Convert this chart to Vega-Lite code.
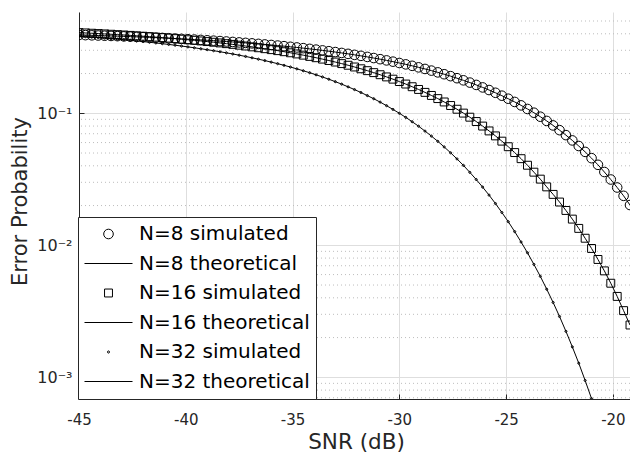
{
  "$schema": "https://vega.github.io/schema/vega-lite/v6.json",
  "width": 551,
  "height": 387,
  "autosize": {"type": "none"},
  "padding": {"left": 79, "top": 12, "right": 0, "bottom": 57},
  "background": "white",
  "config": {"view": {"stroke": null}, "font": "DejaVu Sans"},
  "datasets": {
    "minor": [
      {"p": 0.0007}, {"p": 0.0008}, {"p": 0.0009},
      {"p": 0.002}, {"p": 0.003}, {"p": 0.004}, {"p": 0.005}, {"p": 0.006}, {"p": 0.007}, {"p": 0.008}, {"p": 0.009},
      {"p": 0.02}, {"p": 0.03}, {"p": 0.04}, {"p": 0.05}, {"p": 0.06}, {"p": 0.07}, {"p": 0.08}, {"p": 0.09},
      {"p": 0.2}, {"p": 0.3}, {"p": 0.4}, {"p": 0.5}
    ],
    "curves": [
      {"snr": -45, "N=8 simulated": 0.3920, "N=16 simulated": 0.4082, "N=32 simulated": 0.3833},
      {"snr": -44.7, "N=8 simulated": 0.3908, "N=16 simulated": 0.4061, "N=32 simulated": 0.3803},
      {"snr": -44.4, "N=8 simulated": 0.3895, "N=16 simulated": 0.4039, "N=32 simulated": 0.3772},
      {"snr": -44.1, "N=8 simulated": 0.3882, "N=16 simulated": 0.4016, "N=32 simulated": 0.3741},
      {"snr": -43.8, "N=8 simulated": 0.3868, "N=16 simulated": 0.3992, "N=32 simulated": 0.3708},
      {"snr": -43.5, "N=8 simulated": 0.3854, "N=16 simulated": 0.3968, "N=32 simulated": 0.3675},
      {"snr": -43.2, "N=8 simulated": 0.3839, "N=16 simulated": 0.3943, "N=32 simulated": 0.3640},
      {"snr": -42.9, "N=8 simulated": 0.3824, "N=16 simulated": 0.3917, "N=32 simulated": 0.3605},
      {"snr": -42.6, "N=8 simulated": 0.3808, "N=16 simulated": 0.3890, "N=32 simulated": 0.3568},
      {"snr": -42.3, "N=8 simulated": 0.3792, "N=16 simulated": 0.3862, "N=32 simulated": 0.3530},
      {"snr": -42.0, "N=8 simulated": 0.3775, "N=16 simulated": 0.3833, "N=32 simulated": 0.3491},
      {"snr": -41.7, "N=8 simulated": 0.3757, "N=16 simulated": 0.3804, "N=32 simulated": 0.3450},
      {"snr": -41.4, "N=8 simulated": 0.3740, "N=16 simulated": 0.3773, "N=32 simulated": 0.3409},
      {"snr": -41.1, "N=8 simulated": 0.3721, "N=16 simulated": 0.3742, "N=32 simulated": 0.3367},
      {"snr": -40.8, "N=8 simulated": 0.3702, "N=16 simulated": 0.3710, "N=32 simulated": 0.3323},
      {"snr": -40.5, "N=8 simulated": 0.3682, "N=16 simulated": 0.3676, "N=32 simulated": 0.3277},
      {"snr": -40.2, "N=8 simulated": 0.3661, "N=16 simulated": 0.3641, "N=32 simulated": 0.3231},
      {"snr": -39.9, "N=8 simulated": 0.3640, "N=16 simulated": 0.3606, "N=32 simulated": 0.3183},
      {"snr": -39.6, "N=8 simulated": 0.3618, "N=16 simulated": 0.3570, "N=32 simulated": 0.3134},
      {"snr": -39.3, "N=8 simulated": 0.3595, "N=16 simulated": 0.3532, "N=32 simulated": 0.3083},
      {"snr": -39.0, "N=8 simulated": 0.3572, "N=16 simulated": 0.3492, "N=32 simulated": 0.3032},
      {"snr": -38.7, "N=8 simulated": 0.3548, "N=16 simulated": 0.3452, "N=32 simulated": 0.2979},
      {"snr": -38.4, "N=8 simulated": 0.3523, "N=16 simulated": 0.3411, "N=32 simulated": 0.2925},
      {"snr": -38.1, "N=8 simulated": 0.3497, "N=16 simulated": 0.3368, "N=32 simulated": 0.2869},
      {"snr": -37.8, "N=8 simulated": 0.3470, "N=16 simulated": 0.3325, "N=32 simulated": 0.2813},
      {"snr": -37.5, "N=8 simulated": 0.3442, "N=16 simulated": 0.3279, "N=32 simulated": 0.2754},
      {"snr": -37.2, "N=8 simulated": 0.3414, "N=16 simulated": 0.3233, "N=32 simulated": 0.2694},
      {"snr": -36.9, "N=8 simulated": 0.3385, "N=16 simulated": 0.3185, "N=32 simulated": 0.2632},
      {"snr": -36.6, "N=8 simulated": 0.3355, "N=16 simulated": 0.3136, "N=32 simulated": 0.2569},
      {"snr": -36.3, "N=8 simulated": 0.3323, "N=16 simulated": 0.3085, "N=32 simulated": 0.2507},
      {"snr": -36.0, "N=8 simulated": 0.3291, "N=16 simulated": 0.3034, "N=32 simulated": 0.2441},
      {"snr": -35.7, "N=8 simulated": 0.3258, "N=16 simulated": 0.2982, "N=32 simulated": 0.2376},
      {"snr": -35.4, "N=8 simulated": 0.3224, "N=16 simulated": 0.2927, "N=32 simulated": 0.2308},
      {"snr": -35.1, "N=8 simulated": 0.3188, "N=16 simulated": 0.2872, "N=32 simulated": 0.2240},
      {"snr": -34.8, "N=8 simulated": 0.3152, "N=16 simulated": 0.2815, "N=32 simulated": 0.2170},
      {"snr": -34.5, "N=8 simulated": 0.3114, "N=16 simulated": 0.2756, "N=32 simulated": 0.2100},
      {"snr": -34.2, "N=8 simulated": 0.3075, "N=16 simulated": 0.2696, "N=32 simulated": 0.2029},
      {"snr": -33.9, "N=8 simulated": 0.3035, "N=16 simulated": 0.2635, "N=32 simulated": 0.1956},
      {"snr": -33.6, "N=8 simulated": 0.2994, "N=16 simulated": 0.2572, "N=32 simulated": 0.1884},
      {"snr": -33.3, "N=8 simulated": 0.2952, "N=16 simulated": 0.2509, "N=32 simulated": 0.1810},
      {"snr": -33.0, "N=8 simulated": 0.2909, "N=16 simulated": 0.2444, "N=32 simulated": 0.1736},
      {"snr": -32.7, "N=8 simulated": 0.2864, "N=16 simulated": 0.2378, "N=32 simulated": 0.1662},
      {"snr": -32.4, "N=8 simulated": 0.2819, "N=16 simulated": 0.2311, "N=32 simulated": 0.1586},
      {"snr": -32.1, "N=8 simulated": 0.2771, "N=16 simulated": 0.2242, "N=32 simulated": 0.1512},
      {"snr": -31.8, "N=8 simulated": 0.2723, "N=16 simulated": 0.2173, "N=32 simulated": 0.1437},
      {"snr": -31.5, "N=8 simulated": 0.2673, "N=16 simulated": 0.2103, "N=32 simulated": 0.1362},
      {"snr": -31.2, "N=8 simulated": 0.2621, "N=16 simulated": 0.2032, "N=32 simulated": 0.1289},
      {"snr": -30.9, "N=8 simulated": 0.2569, "N=16 simulated": 0.1959, "N=32 simulated": 0.1215},
      {"snr": -30.6, "N=8 simulated": 0.2515, "N=16 simulated": 0.1886, "N=32 simulated": 0.1142},
      {"snr": -30.3, "N=8 simulated": 0.2461, "N=16 simulated": 0.1813, "N=32 simulated": 0.1070},
      {"snr": -30.0, "N=8 simulated": 0.2404, "N=16 simulated": 0.1739, "N=32 simulated": 0.1000},
      {"snr": -29.7, "N=8 simulated": 0.2347, "N=16 simulated": 0.1665, "N=32 simulated": 0.0931},
      {"snr": -29.4, "N=8 simulated": 0.2288, "N=16 simulated": 0.1589, "N=32 simulated": 0.0863},
      {"snr": -29.1, "N=8 simulated": 0.2228, "N=16 simulated": 0.1515, "N=32 simulated": 0.0798},
      {"snr": -28.8, "N=8 simulated": 0.2167, "N=16 simulated": 0.1440, "N=32 simulated": 0.0733},
      {"snr": -28.5, "N=8 simulated": 0.2105, "N=16 simulated": 0.1365, "N=32 simulated": 0.0672},
      {"snr": -28.2, "N=8 simulated": 0.2041, "N=16 simulated": 0.1292, "N=32 simulated": 0.0613},
      {"snr": -27.9, "N=8 simulated": 0.1976, "N=16 simulated": 0.1218, "N=32 simulated": 0.0556},
      {"snr": -27.6, "N=8 simulated": 0.1911, "N=16 simulated": 0.1145, "N=32 simulated": 0.0502},
      {"snr": -27.3, "N=8 simulated": 0.1844, "N=16 simulated": 0.1073, "N=32 simulated": 0.0451},
      {"snr": -27.0, "N=8 simulated": 0.1777, "N=16 simulated": 0.1003, "N=32 simulated": 0.0403},
      {"snr": -26.7, "N=8 simulated": 0.1708, "N=16 simulated": 0.0934, "N=32 simulated": 0.0357},
      {"snr": -26.4, "N=8 simulated": 0.1640, "N=16 simulated": 0.0866, "N=32 simulated": 0.0315},
      {"snr": -26.1, "N=8 simulated": 0.1570, "N=16 simulated": 0.0800, "N=32 simulated": 0.0276},
      {"snr": -25.8, "N=8 simulated": 0.1500, "N=16 simulated": 0.0735, "N=32 simulated": 0.0240},
      {"snr": -25.5, "N=8 simulated": 0.1430, "N=16 simulated": 0.0674, "N=32 simulated": 0.02071},
      {"snr": -25.2, "N=8 simulated": 0.1359, "N=16 simulated": 0.0615, "N=32 simulated": 0.01773},
      {"snr": -24.9, "N=8 simulated": 0.1289, "N=16 simulated": 0.0558, "N=32 simulated": 0.01509},
      {"snr": -24.6, "N=8 simulated": 0.1219, "N=16 simulated": 0.0504, "N=32 simulated": 0.01270},
      {"snr": -24.3, "N=8 simulated": 0.1148, "N=16 simulated": 0.0453, "N=32 simulated": 0.01059},
      {"snr": -24.0, "N=8 simulated": 0.1078, "N=16 simulated": 0.0404, "N=32 simulated": 0.00878},
      {"snr": -23.7, "N=8 simulated": 0.1010, "N=16 simulated": 0.0358, "N=32 simulated": 0.00717},
      {"snr": -23.4, "N=8 simulated": 0.0942, "N=16 simulated": 0.0317, "N=32 simulated": 0.00582},
      {"snr": -23.1, "N=8 simulated": 0.0875, "N=16 simulated": 0.0277, "N=32 simulated": 0.00465},
      {"snr": -22.8, "N=8 simulated": 0.0809, "N=16 simulated": 0.0243, "N=32 simulated": 0.00369},
      {"snr": -22.5, "N=8 simulated": 0.0745, "N=16 simulated": 0.02126, "N=32 simulated": 0.00289},
      {"snr": -22.2, "N=8 simulated": 0.0683, "N=16 simulated": 0.01836, "N=32 simulated": 0.00223},
      {"snr": -21.9, "N=8 simulated": 0.0623, "N=16 simulated": 0.01579, "N=32 simulated": 0.00170},
      {"snr": -21.6, "N=8 simulated": 0.0565, "N=16 simulated": 0.01343, "N=32 simulated": 0.00128},
      {"snr": -21.3, "N=8 simulated": 0.0510, "N=16 simulated": 0.01131, "N=32 simulated": 0.000946},
      {"snr": -21.0, "N=8 simulated": 0.0457, "N=16 simulated": 0.00946, "N=32 simulated": 0.000689},
      {"snr": -20.7, "N=8 simulated": 0.0407, "N=16 simulated": 0.00781, "N=32 simulated": 0.000496},
      {"snr": -20.4, "N=8 simulated": 0.0359, "N=16 simulated": 0.00640},
      {"snr": -20.1, "N=8 simulated": 0.0315, "N=16 simulated": 0.00516},
      {"snr": -19.8, "N=8 simulated": 0.0274, "N=16 simulated": 0.00410},
      {"snr": -19.5, "N=8 simulated": 0.0237, "N=16 simulated": 0.00320},
      {"snr": -19.2, "N=8 simulated": 0.02018, "N=16 simulated": 0.00249}
    ]
  },
  "encoding": {
    "y": {
      "field": "p", "type": "quantitative",
      "scale": {"type": "log", "domain": [0.000685, 0.585], "nice": false},
      "axis": {
        "values": [0.001, 0.01, 0.1],
        "title": "Error Probability",
        "grid": true, "gridColor": "#dedede", "gridWidth": 1,
        "domainColor": "#262626", "domainWidth": 1,
        "ticks": true, "tickColor": "#262626", "tickSize": -5,
        "labelPadding": 12, "labelFontSize": 16, "labelColor": "#262626",
        "labelFont": "DejaVu Sans",
        "labelExpr": "datum.value < 0.005 ? '10⁻³' : datum.value < 0.05 ? '10⁻²' : '10⁻¹'",
        "titleFont": "DejaVu Sans", "titleFontSize": 21, "titleColor": "#262626", "titleFontWeight": "normal",
        "titleAngle": 270, "titleX": -52.5, "titleY": 189, "titleBaseline": "alphabetic", "titleAlign": "center"
      }
    }
  },
  "layer": [
    {
      "data": {"name": "minor"},
      "mark": {"type": "rule", "stroke": "#bdbdbd", "strokeWidth": 1, "strokeDash": [1, 3]},
      "encoding": {}
    },
    {
      "data": {"name": "curves"},
      "transform": [{"fold": ["N=8 simulated", "N=16 simulated", "N=32 simulated"], "as": ["series", "p"]}],
      "mark": {"type": "line", "stroke": "black", "strokeWidth": 1, "clip": true},
      "encoding": {
        "x": {
          "field": "snr", "type": "quantitative",
          "scale": {"domain": [-45, -19.2], "nice": false, "zero": false},
          "axis": {
            "values": [-45, -40, -35, -30, -25, -20],
            "title": "SNR (dB)",
            "grid": true, "gridColor": "#dedede", "gridWidth": 1,
            "domainColor": "#262626", "domainWidth": 1,
            "ticks": true, "tickColor": "#262626", "tickSize": -5,
            "labelPadding": 18.5, "labelFontSize": 15, "labelColor": "#262626",
            "labelFont": "DejaVu Sans", "labelFlush": false,
            "labelExpr": "'' + datum.value",
            "titleFont": "DejaVu Sans", "titleFontSize": 21.5, "titleColor": "#262626", "titleFontWeight": "normal",
            "titleX": 277, "titleY": 49, "titleBaseline": "alphabetic", "titleAlign": "center"
          }
        },
        "detail": {"field": "series", "type": "nominal"}
      }
    },
    {
      "data": {"name": "curves"},
      "transform": [{"fold": ["N=8 simulated", "N=16 simulated", "N=32 simulated"], "as": ["series", "p"]}],
      "mark": {"type": "point", "filled": false, "stroke": "black", "strokeWidth": 1, "size": 2304, "opacity": 1, "clip": true},
      "encoding": {
        "x": {"field": "snr", "type": "quantitative", "scale": {"domain": [-45, -19.2], "nice": false, "zero": false}},
        "shape": {
          "field": "series", "type": "nominal",
          "scale": {
            "domain": ["N=8 simulated", "N=8 theoretical", "N=16 simulated", "N=16 theoretical", "N=32 simulated", "N=32 theoretical"],
            "range": [
              "M-0.2,0A0.2,0.2,0,1,1,0.2,0A0.2,0.2,0,1,1,-0.2,0Z",
              "M-1,0L1,0",
              "M-0.165,-0.165L0.165,-0.165L0.165,0.165L-0.165,0.165Z",
              "M-1,0L1,0",
              "M-0.045,0A0.045,0.045,0,1,1,0.045,0A0.045,0.045,0,1,1,-0.045,0Z",
              "M-1,0L1,0"
            ]
          },
          "legend": {
            "orient": "none", "legendX": -1, "legendY": 205,
            "title": null,
            "fillColor": "white", "strokeColor": "#262626",
            "padding": 6, "clipHeight": 22, "rowPadding": 7.5,
            "labelFont": "DejaVu Sans", "labelFontSize": 20, "labelColor": "black",
            "labelOffset": 6, "labelLimit": 400,
            "symbolSize": 2304, "symbolStrokeColor": "black", "symbolStrokeWidth": 1,
            "symbolFillColor": "transparent", "symbolOffset": 0
          }
        }
      }
    }
  ]
}
